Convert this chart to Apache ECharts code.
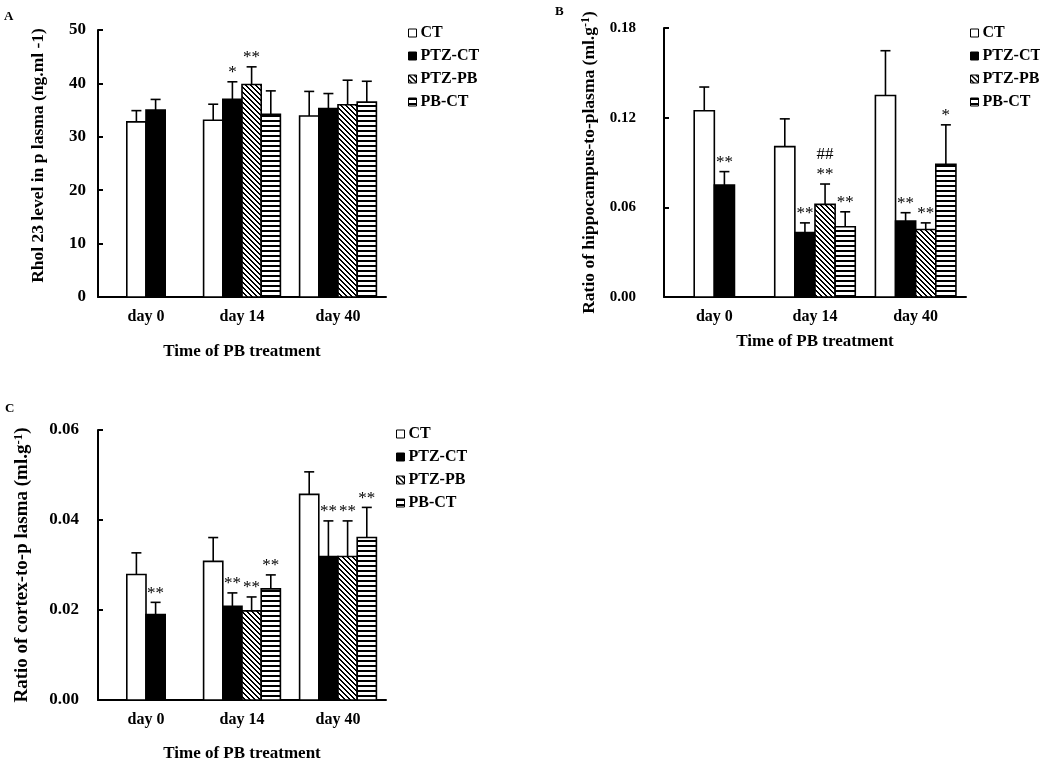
<!DOCTYPE html>
<html>
<head>
<meta charset="utf-8">
<script src="https://cdn.jsdelivr.net/npm/echarts@6/dist/echarts.min.js"></script>
<style>
  html, body { margin: 0; padding: 0; background: #fff; }
  #chart { width: 1040px; height: 760px; }
</style>
</head>
<body>
<div id="chart"></div>
<script>
// ---------------- DATA ----------------
const categories = ['day 0', 'day 14', 'day 40'];
const seriesNames = ['CT', 'PTZ-CT', 'PTZ-PB', 'PB-CT'];

// Panel A: Rho123 level in plasma (ng/ml)
const meansA = [
  [32.8, 33.1, 33.9],   // CT
  [35.0, 37.0, 35.3],   // PTZ-CT
  [null, 39.8, 36.0],   // PTZ-PB
  [null, 34.2, 36.5]    // PB-CT
];
const errsA = [
  [2.1, 3.0, 4.6],
  [2.0, 3.3, 2.8],
  [null, 3.3, 4.6],
  [null, 4.4, 3.9]
];
const sigsA = [
  ['', '', ''],
  ['', '*', ''],
  ['', '**', ''],
  ['', '', '']
];

// Panel B: ratio hippocampus-to-plasma (ml/g)
const meansB = [
  [0.1246, 0.1006, 0.1348],
  [0.0749, 0.0432, 0.0508],
  [null, 0.0620, 0.0452],
  [null, 0.0470, 0.0888]
];
const errsB = [
  [0.0159, 0.0186, 0.0300],
  [0.0090, 0.0064, 0.0056],
  [null, 0.0136, 0.0044],
  [null, 0.0100, 0.0264]
];
const sigsB = [
  ['', '', ''],
  ['**', '**', '**'],
  ['', '##\n**', '**'],
  ['', '**', '*']
];

// Panel C: ratio cortex-to-plasma (ml/g)
const meansC = [
  [0.0279, 0.0308, 0.0457],
  [0.0190, 0.0208, 0.0319],
  [null, 0.0198, 0.0319],
  [null, 0.0247, 0.0361]
];
const errsC = [
  [0.0048, 0.0053, 0.0050],
  [0.0027, 0.0030, 0.0079],
  [null, 0.0031, 0.0079],
  [null, 0.0031, 0.0067]
];
const sigsC = [
  ['', '', ''],
  ['**', '**', '**'],
  ['', '**', '**'],
  ['', '**', '**']
];

// axis scales
const axisA = { min: 0, max: 50, interval: 10, decimals: 0 };
const axisB = { min: 0, max: 0.18, interval: 0.06, decimals: 2 };
const axisC = { min: 0, max: 0.06, interval: 0.02, decimals: 2 };

// ---------------- STYLE ----------------
const FONT = '"Liberation Serif", "Times New Roman", serif';

function makePattern(kind) {
  const c = document.createElement('canvas');
  const p = 5;
  c.width = p; c.height = p;
  const ctx = c.getContext('2d');
  const img = ctx.createImageData(p, p);
  for (let y = 0; y < p; y++) {
    for (let x = 0; x < p; x++) {
      let black;
      if (kind === 'diag') black = (((x - y) % p) + p) % p < 2;
      else black = y < 2;
      const i = (y * p + x) * 4;
      const v = black ? 0 : 255;
      img.data[i] = v; img.data[i + 1] = v; img.data[i + 2] = v; img.data[i + 3] = 255;
    }
  }
  ctx.putImageData(img, 0, 0);
  return { image: c, repeat: 'repeat' };
}
const FILLS = ['#ffffff', '#000000', makePattern('diag'), makePattern('horiz')];

function makeRender(means, sigs, sIdx) {
  return function (params, api) {
    const cat = api.value(0);
    const mean = api.value(1);
    const err = api.value(2);
    const present = [];
    for (let s = 0; s < means.length; s++) if (means[s][cat] != null) present.push(s);
    const k = present.indexOf(sIdx);
    const band = api.size([1, 0])[0];
    const bw = band * 0.2;
    const base = api.coord([cat, 0]);
    const left = base[0] - present.length * bw / 2 + k * bw;
    const yTop = api.coord([cat, mean])[1];
    const yErr = api.coord([cat, mean + err])[1];
    const cx = left + bw / 2;
    const children = [
      { type: 'rect', shape: { x: left, y: yTop, width: bw, height: base[1] - yTop },
        style: { fill: FILLS[sIdx], stroke: '#000', lineWidth: 1.6 } },
      { type: 'line', shape: { x1: cx, y1: yTop, x2: cx, y2: yErr },
        style: { stroke: '#000', lineWidth: 1.6 } },
      { type: 'line', shape: { x1: cx - 5, y1: yErr, x2: cx + 5, y2: yErr },
        style: { stroke: '#000', lineWidth: 1.6 } }
    ];
    const sig = sigs[sIdx][cat];
    if (sig) {
      children.push({ type: 'text', x: cx, y: yErr + 1,
        style: { text: sig, fill: '#000', font: '17px ' + FONT,
                 align: 'center', verticalAlign: 'bottom', lineHeight: 20 } });
    }
    return { type: 'group', children: children };
  };
}

function panelSeries(means, errs, sigs, axisIndex) {
  return seriesNames.map(function (name, s) {
    const data = [];
    for (let c = 0; c < categories.length; c++) {
      if (means[s][c] != null) data.push([c, means[s][c], errs[s][c]]);
    }
    return {
      type: 'custom', name: name, xAxisIndex: axisIndex, yAxisIndex: axisIndex,
      renderItem: makeRender(means, sigs, s),
      encode: { x: 0, y: 1 },
      itemStyle: { color: FILLS[s], borderColor: '#000', borderWidth: 1 },
      clip: false,
      data: data
    };
  });
}

function xAxis(gridIndex, nameGap) {
  return {
    type: 'category', gridIndex: gridIndex, data: categories,
    axisLine: { lineStyle: { color: '#000', width: 2 } },
    axisTick: { show: false },
    axisLabel: { color: '#000', fontFamily: FONT, fontWeight: 'bold', fontSize: 16, margin: 12 },
    name: 'Time of PB treatment', nameLocation: 'middle', nameGap: nameGap,
    nameTextStyle: { color: '#000', fontFamily: FONT, fontWeight: 'bold', fontSize: 17 }
  };
}

function yAxis(gridIndex, ax, name, nameGap, labelSize, labelMargin, nameSize, namePad) {
  return {
    type: 'value', gridIndex: gridIndex, min: ax.min, max: ax.max, interval: ax.interval,
    axisLine: { show: true, lineStyle: { color: '#000', width: 2 } },
    axisTick: { show: true, inside: true, length: 5, lineStyle: { color: '#000', width: 2 } },
    splitLine: { show: false },
    axisLabel: { color: '#000', fontFamily: FONT, fontWeight: 'bold', fontSize: labelSize,
                 margin: labelMargin,
                 formatter: function (v) { return v.toFixed(ax.decimals); } },
    name: name, nameLocation: 'middle', nameGap: nameGap,
    nameTextStyle: { color: '#000', fontFamily: FONT, fontWeight: 'bold', fontSize: nameSize,
      lineHeight: nameSize + 2, padding: namePad,
      rich: { sup: { fontSize: Math.round(nameSize * 0.68), fontFamily: FONT, fontWeight: 'bold',
                     color: '#000', verticalAlign: 'top', lineHeight: nameSize + 2 } } }
  };
}

function legend(left, top) {
  return {
    orient: 'vertical', left: left, top: top, itemWidth: 8, itemHeight: 8, itemGap: 7,
    selectedMode: false,
    textStyle: { color: '#000', fontFamily: FONT, fontWeight: 'bold', fontSize: 16, padding: [0, 0, 0, -1] },
    data: seriesNames.map(function (n, i) {
      return { name: n, icon: 'rect',
               itemStyle: { color: FILLS[i], borderColor: '#000', borderWidth: 1 } };
    })
  };
}

const chart = echarts.init(document.getElementById('chart'), null, { renderer: 'canvas' });
chart.setOption({
  backgroundColor: '#fff',
  animation: false,
  textStyle: { fontFamily: FONT },
  grid: [
    { left: 98, top: 30, width: 288, height: 267, outerBoundsMode: 'none', containLabel: false },
    { left: 664, top: 28, width: 302, height: 269, outerBoundsMode: 'none', containLabel: false },
    { left: 98, top: 430, width: 288, height: 270, outerBoundsMode: 'none', containLabel: false }
  ],
  xAxis: [xAxis(0, 46), xAxis(1, 36), xAxis(2, 45)],
  yAxis: [
    yAxis(0, axisA, 'Rhol 23 level in p lasma (ng.ml -1)', 50, 17, 12, 17.5, [0, 0, 0, 16]),
    yAxis(1, axisB, 'Ratio of hippocampus-to-plasma (ml.g{sup|-1})', 65, 15, 28, 17.5, 0),
    yAxis(2, axisC, 'Ratio of cortex-to-p lasma (ml.g{sup|-1})', 65, 17, 19, 19, 0)
  ],
  legend: [legend(403, 20), legend(965, 20), legend(391, 421)],
  graphic: [
    { type: 'text', left: 4, top: 10, style: { text: 'A', font: 'bold 13px ' + FONT, fill: '#000' } },
    { type: 'text', left: 555, top: 5, style: { text: 'B', font: 'bold 13px ' + FONT, fill: '#000' } },
    { type: 'text', left: 5, top: 402, style: { text: 'C', font: 'bold 13px ' + FONT, fill: '#000' } }
  ],
  series: [].concat(
    panelSeries(meansA, errsA, sigsA, 0),
    panelSeries(meansB, errsB, sigsB, 1),
    panelSeries(meansC, errsC, sigsC, 2)
  )
});
</script>
</body>
</html>
